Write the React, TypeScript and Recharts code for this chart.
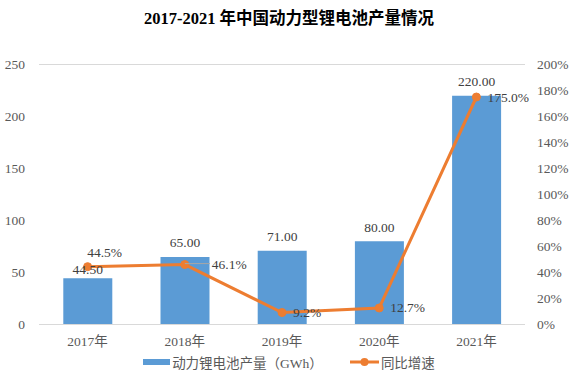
import React from 'react';
import {
  ComposedChart,
  Bar,
  Line,
  XAxis,
  YAxis,
  CartesianGrid,
  Legend,
  LabelList,
} from 'recharts';

const years = ['2017年', '2018年', '2019年', '2020年', '2021年'];
const output = [44.5, 65.0, 71.0, 80.0, 220.0];
const growth = [44.5, 46.1, 9.2, 12.7, 175.0];
const leftTicks = [0, 50, 100, 150, 200, 250];
const rightTicks = [0, 20, 40, 60, 80, 100, 120, 140, 160, 180, 200];

const data = years.map((y, i) => ({ year: y, output: output[i], growth: growth[i] }));

const FONT = '"Liberation Serif", "Noto Sans CJK SC", serif';
const BLUE = '#5B9BD5';
const ORANGE = '#ED7D31';
const TICK = '#595959';
const LABEL = '#404040';

const renderBarLabel = (props: any) => {
  const { x, y, width, value, index } = props;
  const dy = index === 0 ? 9 : 14;
  return (
    <text
      x={Number(x) + Number(width) / 2}
      y={Number(y) - dy}
      textAnchor="middle"
      dominantBaseline="central"
      fontFamily={FONT}
      fontSize={13.5}
      fill={LABEL}
    >
      {Number(value).toFixed(2)}
    </text>
  );
};

const renderLineLabel = (props: any) => {
  const { x, y, value, index } = props;
  const px = Number(x);
  const py = Number(y);
  const txt = `${Number(value).toFixed(1)}%`;
  if (index === 0) {
    return (
      <text x={px + 17} y={py - 14} textAnchor="middle" dominantBaseline="central" fontFamily={FONT} fontSize={13.5} fill={LABEL}>
        {txt}
      </text>
    );
  }
  if (index === 1) {
    return (
      <g>
        <line x1={px} y1={py - 1} x2={px + 25} y2={py - 1} stroke="#A6A6A6" strokeWidth={1} />
        <text x={px + 27} y={py} textAnchor="start" dominantBaseline="central" fontFamily={FONT} fontSize={13.5} fill={LABEL}>
          {txt}
        </text>
      </g>
    );
  }
  return (
    <text x={px + 11} y={py} textAnchor="start" dominantBaseline="central" fontFamily={FONT} fontSize={13.5} fill={LABEL}>
      {txt}
    </text>
  );
};

const renderLegend = () => (
  <div
    style={{
      display: 'flex',
      justifyContent: 'center',
      alignItems: 'center',
      height: 20,
      fontFamily: FONT,
      fontSize: 13.5,
      color: TICK,
      whiteSpace: 'nowrap',
    }}
  >
    <span style={{ display: 'inline-block', width: 27, height: 6, background: BLUE, marginRight: 2 }} />
    <span>动力锂电池产量（GWh）</span>
    <svg width={29} height={10} style={{ marginLeft: 27, marginRight: 2 }}>
      <line x1={0} y1={5} x2={29} y2={5} stroke={ORANGE} strokeWidth={3} />
      <circle cx={14.5} cy={5} r={4} fill={ORANGE} />
    </svg>
    <span>同比增速</span>
  </div>
);

export default function App() {
  return (
    <div style={{ position: 'absolute', left: 0, top: 0, width: 578, height: 374, background: '#fff' }}>
      <div
        style={{
          position: 'absolute',
          left: 0,
          top: 9,
          width: 578,
          textAlign: 'center',
          fontFamily: FONT,
          fontWeight: 'bold',
          fontSize: 16.5,
          color: '#000',
          lineHeight: '20px',
        }}
      >
        2017-2021 年中国动力型锂电池产量情况
      </div>
      <ComposedChart
        width={578}
        height={374}
        data={data}
        margin={{ top: 64.5, right: 0, bottom: 0, left: 0 }}
        barCategoryGap="25%"
      >
        <CartesianGrid vertical={false} stroke="#D9D9D9" />
        <XAxis
          dataKey="year"
          height={29.5}
          axisLine={{ stroke: '#D9D9D9' }}
          tickLine={false}
          tickSize={0}
          tickMargin={12}
          tick={{ fill: TICK, fontSize: 13.5, fontFamily: FONT }}
        />
        <YAxis
          yAxisId="left"
          orientation="left"
          width={39}
          domain={[0, 250]}
          ticks={leftTicks}
          axisLine={false}
          tickLine={false}
          tickSize={0}
          tickMargin={14}
          tick={{ fill: TICK, fontSize: 13.5, fontFamily: FONT }}
        />
        <YAxis
          yAxisId="right"
          orientation="right"
          width={53}
          domain={[0, 200]}
          ticks={rightTicks}
          tickFormatter={(v: number) => `${v}%`}
          axisLine={false}
          tickLine={false}
          tickSize={0}
          tickMargin={12}
          tick={{ fill: TICK, fontSize: 13.5, fontFamily: FONT }}
        />
        <Legend
          verticalAlign="bottom"
          height={20}
          content={renderLegend}
          wrapperStyle={{ position: 'absolute', left: 0, top: 352, width: 578, height: 20 }}
        />
        <Bar yAxisId="left" dataKey="output" fill={BLUE} isAnimationActive={false}>
          <LabelList dataKey="output" content={renderBarLabel} />
        </Bar>
        <Line
          yAxisId="right"
          dataKey="growth"
          stroke={ORANGE}
          strokeWidth={3}
          dot={{ r: 4, fill: ORANGE, stroke: ORANGE, strokeWidth: 1 }}
          activeDot={false}
          isAnimationActive={false}
        >
          <LabelList dataKey="growth" content={renderLineLabel} />
        </Line>
      </ComposedChart>
    </div>
  );
}
